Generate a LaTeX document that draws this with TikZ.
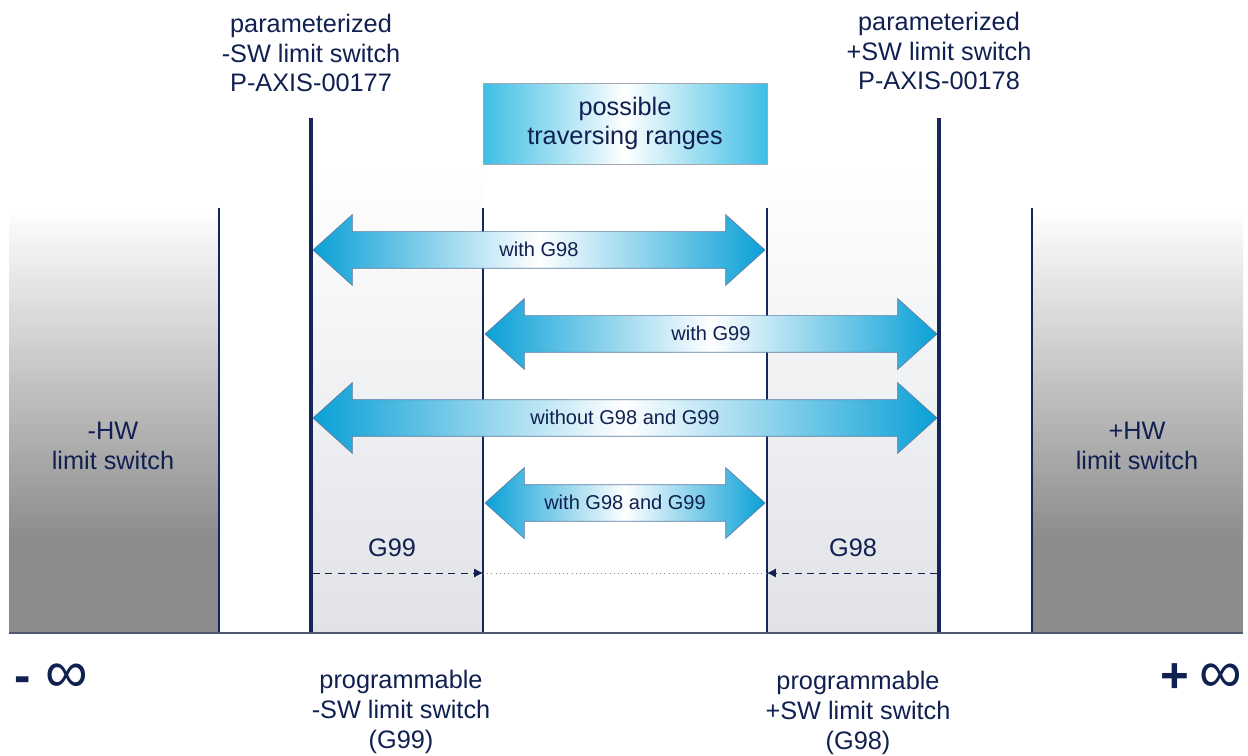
\documentclass[tikz,border=0pt]{standalone}
\usepackage{fontspec}
\setmainfont{Liberation Sans}
\usepackage{tikz}
\usetikzlibrary{shapes.arrows,arrows.meta}

\definecolor{navy}{RGB}{16,32,80}
\definecolor{linenavy}{RGB}{20,38,90}
\definecolor{hwgray}{RGB}{140,140,140}
\definecolor{panelgray}{RGB}{224,226,230}
\definecolor{tipcyan}{RGB}{10,160,214}
\definecolor{boxcyan}{RGB}{62,190,228}
\definecolor{rimblue}{RGB}{95,125,165}
\definecolor{basegray}{RGB}{80,88,112}
\definecolor{boxrim}{RGB}{160,168,184}

\begin{document}
\begin{tikzpicture}[x=0.02cm, y=-0.02cm,
  txt/.style={text=navy, align=center, font=\fontsize{14.4}{17}\selectfont},
  rangearrow/.style={double arrow, draw=rimblue, line width=0.4pt,
    left color=tipcyan, right color=tipcyan, middle color=white,
    text=navy, font=\fontsize{11.4}{13}\selectfont,
    double arrow head extend=0.34cm, double arrow tip angle=84,
    inner xsep=0pt, inner ysep=1.85mm, text height=3.15mm, text depth=0.35mm},
  thinline/.style={linenavy, line width=0.8pt},
  thickline/.style={linenavy, line width=1.8pt},
  guide/.style={navy, dash pattern=on 4pt off 3pt, -{Latex[length=5pt,width=5pt]}},
  infinity/.style={text=navy, font=\fontsize{28}{30}\selectfont}]
\useasboundingbox (0,0) rectangle (1248,756);

% hardware limit zones
\shade[top color=white, bottom color=hwgray] (9,208) rectangle (219,540);
\fill[hwgray] (9,539.5) rectangle (219,633);
\shade[top color=white, bottom color=hwgray] (1032,208) rectangle (1243,540);
\fill[hwgray] (1032,539.5) rectangle (1243,633);

% software limit zones
\shade[top color=white, bottom color=panelgray] (311,160) rectangle (483,633);
\shade[top color=white, bottom color=panelgray] (767,160) rectangle (939,633);

% vertical limits and base line
\draw[thinline] (219,208) -- (219,633);
\draw[thinline] (483,208) -- (483,633);
\draw[thinline] (767,208) -- (767,633);
\draw[thinline] (1032,208) -- (1032,633);
\draw[thickline] (311,118) -- (311,633);
\draw[thickline] (939,118) -- (939,633);
\draw[basegray, line width=1.2pt] (9,633) -- (1243,633);

% title
\node[txt, draw=boxrim, left color=boxcyan, right color=boxcyan, middle color=white,
  minimum width=5.68cm, minimum height=1.62cm] (title) at (625,123.5) {possible\\traversing ranges};

% traversing ranges
\node[rangearrow, minimum height=9.04cm] (withg98) at (539,250) {with G98};
\node[rangearrow, minimum height=9.04cm] (withg99) at (711,334) {with G99};
\node[rangearrow, minimum height=12.48cm] (without) at (625,418) {without G98 and G99};
\node[rangearrow, minimum height=5.6cm] (withboth) at (625,503) {with G98 and G99};

% programmed limits
\node[txt] (g99) at (392,548) {G99};
\node[txt] (g98) at (853,548) {G98};
\coordinate (g99s) at (313,573);
\coordinate (g99e) at (483,573);
\coordinate (g98s) at (937,573);
\coordinate (g98e) at (767,573);
\draw[guide] (g99s) -- (g99e);
\draw[guide] (g98s) -- (g98e);
\draw[navy!55, dotted] (g99e) -- (g98e);

% labels
\node[txt] (hwminus) at (113,446) {-HW\\limit switch};
\node[txt] (hwplus) at (1137,446) {+HW\\limit switch};
\node[txt] (swminus) at (311,53) {parameterized\\-SW limit switch\\P-AXIS-00177};
\node[txt] (swplus) at (939,51) {parameterized\\+SW limit switch\\P-AXIS-00178};
\node[txt] (progminus) at (401,712) {programmable\\-SW limit switch\\(G99)};
\node[txt] (progplus) at (858,713) {programmable\\+SW limit switch\\(G98)};
\node[infinity, anchor=west] (minf) at (8,678) {\textbf{-}\hspace{0.3em}\fontsize{34}{34}\selectfont ∞};
\node[infinity, anchor=east] (pinf) at (1248,678) {\textbf{+}\hspace{0.2em}\fontsize{34}{34}\selectfont ∞};
\end{tikzpicture}
\end{document}
